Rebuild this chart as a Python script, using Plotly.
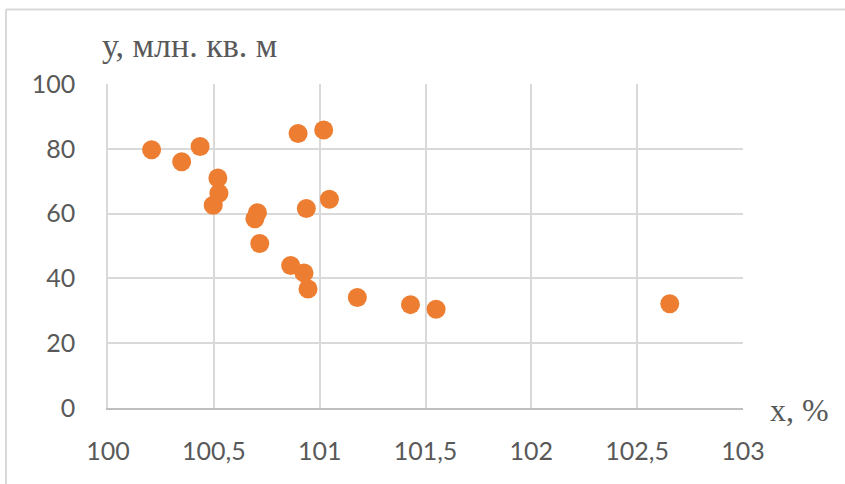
import plotly.graph_objects as go

x_vals = [100.206, 100.348, 100.435, 100.519, 100.524, 100.497, 100.898, 101.019,
          100.937, 101.046, 100.706, 100.694, 100.717, 100.863, 100.926, 100.945,
          101.178, 101.429, 101.550, 102.654]
y_vals = [79.7, 76.0, 80.7, 71.0, 66.3, 62.6, 84.7, 85.8,
          61.6, 64.4, 60.3, 58.4, 50.8, 44.0, 41.7, 36.7,
          34.1, 31.9, 30.5, 32.2]
x_ticks = [100, 100.5, 101, 101.5, 102, 102.5, 103]
y_ticks = [0, 20, 40, 60, 80, 100]
x_title = "x, %"
y_title = "у, млн. кв. м"

grid = "#d9d9d9"
txt = "#595959"
tick_font = dict(family="Lato, Open Sans, sans-serif", size=25, color=txt)
ytitle_font = dict(family="Liberation Serif, serif", size=34, color=txt)
xtitle_font = dict(family="Liberation Serif, serif", size=32, color=txt)

fig = go.Figure(go.Scatter(
    x=x_vals, y=y_vals, mode="markers",
    marker=dict(size=19, color="#ED7D31", line=dict(width=0)),
    showlegend=False, hoverinfo="x+y"))

fig.update_layout(
    width=845, height=484,
    margin=dict(l=108, r=102, t=84, b=76),
    paper_bgcolor="white", plot_bgcolor="white",
    separators=", ",
    xaxis=dict(range=[100, 103], tickvals=x_ticks, showgrid=True, gridcolor=grid,
               gridwidth=1.5, zeroline=False, showline=True, linecolor="#bfbfbf",
               linewidth=2, tickfont=tick_font, ticks="", ticklabelstandoff=20,
               fixedrange=True),
    yaxis=dict(range=[0, 100], tickvals=y_ticks, showgrid=True, gridcolor=grid,
               gridwidth=1.5, zeroline=False, showline=True, linecolor=grid,
               linewidth=1.5, tickfont=tick_font, ticks="", ticklabelstandoff=26,
               fixedrange=True),
    annotations=[
        dict(text=y_title, xref="paper", yref="paper", x=-0.0126, y=1.120,
             xanchor="left", yanchor="middle", showarrow=False, font=ytitle_font),
        dict(text=x_title, xref="paper", yref="paper", x=1.040, y=-0.006,
             xanchor="left", yanchor="middle", showarrow=False, font=xtitle_font),
    ],
    shapes=[
        dict(type="line", xref="paper", yref="paper", x0=-0.1606, x1=-0.1606,
             y0=-0.3, y1=1.2303, line=dict(color=grid, width=2)),
        dict(type="line", xref="paper", yref="paper", x0=-0.1606, x1=1.2,
             y0=1.2303, y1=1.2303, line=dict(color=grid, width=2)),
    ],
)

fig.write_html("out.html", config={"displayModeBar": False},
               post_script="document.body.style.margin='0';")
